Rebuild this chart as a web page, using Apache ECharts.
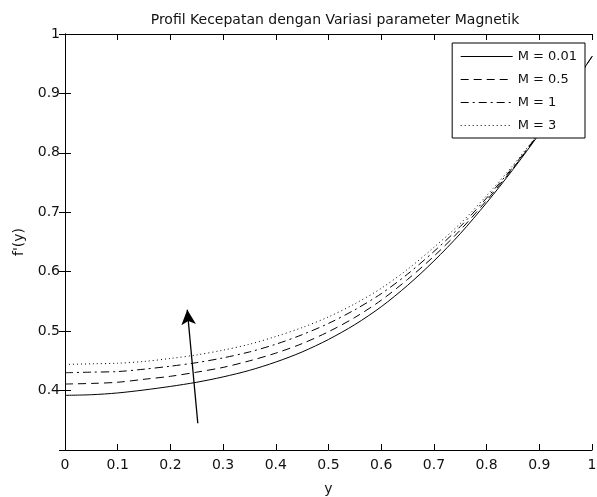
<!DOCTYPE html>
<html>
<head>
<meta charset="utf-8">
<script src="https://cdn.jsdelivr.net/npm/echarts@6/dist/echarts.min.js"></script>
<style>
html,body{margin:0;padding:0;background:#fff;}
#chart{width:597px;height:497px;}
</style>
</head>
<body>
<div id="chart"></div>
<script>
// y positions (x axis)
var yPos = [0, 0.05, 0.1, 0.15, 0.2, 0.25, 0.3, 0.35, 0.4, 0.45, 0.5,
            0.55, 0.6, 0.65, 0.7, 0.75, 0.8, 0.85, 0.9, 0.95, 1];
// f'(y) for each M
var fM001 = [0.392, 0.393, 0.396, 0.401, 0.407, 0.414, 0.423, 0.434, 0.448, 0.465, 0.486,
             0.511, 0.541, 0.577, 0.618, 0.664, 0.716, 0.772, 0.832, 0.896, 0.962];
var fM05  = [0.411, 0.412, 0.414, 0.419, 0.424, 0.431, 0.439, 0.450, 0.463, 0.479, 0.499,
             0.523, 0.552, 0.587, 0.626, 0.670, 0.720, 0.774, 0.833, 0.896, 0.962];
var fM1   = [0.430, 0.431, 0.432, 0.436, 0.441, 0.447, 0.455, 0.465, 0.478, 0.494, 0.513,
             0.536, 0.563, 0.596, 0.634, 0.676, 0.724, 0.776, 0.834, 0.897, 0.962];
var fM3   = [0.444, 0.445, 0.446, 0.449, 0.454, 0.460, 0.468, 0.478, 0.491, 0.506, 0.524,
             0.546, 0.572, 0.604, 0.641, 0.681, 0.728, 0.779, 0.835, 0.897, 0.962];
var seriesNames = ['M = 0.01', 'M = 0.5', 'M = 1', 'M = 3'];
// arrow showing increasing M: tail and head
var arrowTail = [0.252, 0.345];
var arrowHead = [0.232, 0.536];

var chart = echarts.init(document.getElementById('chart'));
var font = 'DejaVu Sans, Verdana, sans-serif';

function pairs(vals) {
    return yPos.map(function (x, i) { return [x, vals[i]]; });
}

function mkSeries(name, vals, dash) {
    return {
        name: name,
        type: 'line',
        data: pairs(vals),
        smooth: 0.3,
        showSymbol: false,
        symbol: 'none',
        silent: true,
        lineStyle: { color: '#000', width: 1, type: dash },
        itemStyle: { color: '#000' }
    };
}

var s1 = mkSeries(seriesNames[0], fM001, 'solid');
s1.markLine = {
    silent: true,
    symbol: ['none', 'arrow'],
    symbolSize: [11, 15],
    label: { show: false },
    lineStyle: { color: '#000', width: 1.3, type: 'solid' },
    data: [[{ coord: arrowTail }, { coord: arrowHead }]]
};

var axisCommon = {
    type: 'value',
    axisLine: { show: true, lineStyle: { color: '#000', width: 1 } },
    axisTick: { show: true, inside: true, length: 6, lineStyle: { color: '#000' } },
    splitLine: { show: false }
};

var option = {
    animation: false,
    backgroundColor: '#fff',
    title: {
        text: 'Profil Kecepatan dengan Variasi parameter Magnetik',
        left: 330,
        textAlign: 'center',
        top: 8,
        textStyle: { fontFamily: font, fontSize: 14, fontWeight: 'normal', color: '#111' }
    },
    legend: {
        orient: 'vertical',
        right: 12,
        top: 43,
        padding: [7, 8, 6, 8],
        itemWidth: 52,
        itemHeight: 14,
        itemGap: 10,
        backgroundColor: '#fff',
        borderColor: '#000',
        borderWidth: 1,
        borderRadius: 0,
        itemStyle: { opacity: 0 },
        lineStyle: { width: 1 },
        textStyle: { fontFamily: font, fontSize: 13, color: '#111' },
        data: seriesNames
    },
    grid: { left: 65, right: 5, top: 34, bottom: 47, containLabel: false, outerBoundsMode: 'none' },
    xAxis: [
        Object.assign({}, axisCommon, {
            min: 0, max: 1, interval: 0.1,
            position: 'bottom',
            name: 'y',
            nameLocation: 'middle',
            nameGap: 32,
            nameTextStyle: { fontFamily: font, fontSize: 14, color: '#111' },
            axisLabel: { fontFamily: font, fontSize: 14, color: '#111', margin: 8 }
        }),
        Object.assign({}, axisCommon, {
            min: 0, max: 1, interval: 0.1,
            position: 'top',
            axisLabel: { show: false }
        })
    ],
    yAxis: [
        Object.assign({}, axisCommon, {
            min: 0.3, max: 1, interval: 0.1,
            position: 'left',
            name: "f'(y)",
            nameLocation: 'middle',
            nameGap: 36,
            nameTextStyle: { fontFamily: font, fontSize: 14, color: '#111' },
            axisLabel: { fontFamily: font, fontSize: 14, color: '#111', margin: 5, showMinLabel: false }
        }),
        Object.assign({}, axisCommon, {
            min: 0.3, max: 1, interval: 0.1,
            position: 'right',
            axisLabel: { show: false }
        })
    ],
    series: [
        s1,
        mkSeries(seriesNames[1], fM05, [8, 5]),
        mkSeries(seriesNames[2], fM1, [8, 4, 2, 4]),
        mkSeries(seriesNames[3], fM3, [1, 3])
    ]
};

chart.setOption(option);
</script>
</body>
</html>
